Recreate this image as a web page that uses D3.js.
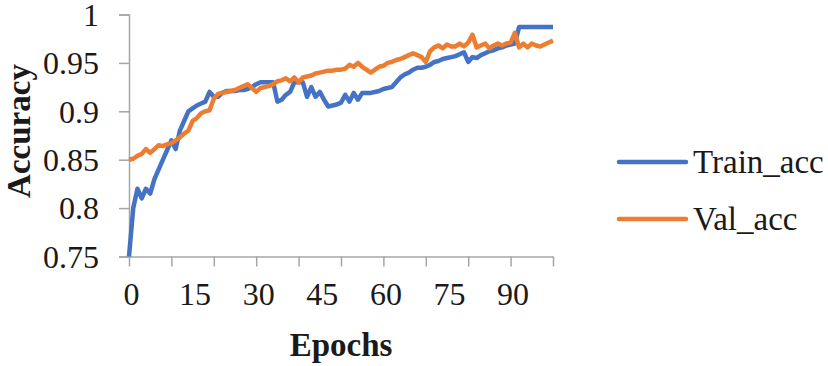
<!DOCTYPE html>
<html>
<head>
<meta charset="utf-8">
<script src="https://cdn.jsdelivr.net/npm/d3@7/dist/d3.min.js"></script>
<style>
  body { margin: 0; background: #fff; }
  svg text { font-family: "Liberation Serif", "Times New Roman", serif; fill: #1a1a1a; }
  .axis path, .axis line { stroke: #a6a6a6; stroke-width: 1.5; }
</style>
</head>
<body>
<svg id="chart"></svg>
<script>
//////////////// Daten ////////////////////
const epochs = d3.range(0, 101);

const trainAcc = [
  0.75, 0.80, 0.82, 0.81, 0.82, 0.815, 0.83, 0.84, 0.85, 0.86,
  0.87, 0.861, 0.88, 0.89, 0.90, 0.903, 0.906, 0.908, 0.91, 0.92,
  0.915, 0.915, 0.919, 0.921, 0.921, 0.921, 0.922, 0.922, 0.923, 0.925,
  0.928, 0.93, 0.93, 0.93, 0.93, 0.91, 0.912, 0.917, 0.92, 0.93,
  0.93, 0.93, 0.915, 0.925, 0.915, 0.92, 0.912, 0.905, 0.906, 0.907,
  0.909, 0.917, 0.91, 0.919, 0.912, 0.919, 0.919, 0.919, 0.92, 0.921,
  0.923, 0.924, 0.925, 0.93, 0.935, 0.938, 0.94, 0.943, 0.945, 0.945,
  0.946, 0.948, 0.951, 0.952, 0.954, 0.955, 0.956, 0.957, 0.959, 0.961,
  0.951, 0.956, 0.955, 0.958, 0.96, 0.962, 0.963, 0.965, 0.966, 0.968,
  0.969, 0.97, 0.987, 0.987, 0.987, 0.987, 0.987, 0.987, 0.987, 0.987,
  0.987
];

const valAcc = [
  0.85, 0.851, 0.854, 0.856, 0.861, 0.857, 0.861, 0.865, 0.864, 0.866,
  0.867, 0.87, 0.873, 0.877, 0.88, 0.89, 0.893, 0.898, 0.90, 0.901,
  0.913, 0.918, 0.919, 0.92, 0.921, 0.922, 0.924, 0.926, 0.928, 0.924,
  0.92, 0.924, 0.925, 0.926, 0.928, 0.931, 0.932, 0.934, 0.931, 0.935,
  0.93, 0.935, 0.936, 0.937, 0.939, 0.94, 0.941, 0.942, 0.942, 0.943,
  0.943, 0.944, 0.948, 0.946, 0.95, 0.946, 0.943, 0.94, 0.943, 0.946,
  0.947, 0.95, 0.951, 0.953, 0.954, 0.956, 0.958, 0.96, 0.958, 0.956,
  0.951, 0.962, 0.966, 0.968, 0.965, 0.969, 0.967, 0.967, 0.97, 0.967,
  0.971, 0.979, 0.966, 0.968, 0.97, 0.965, 0.968, 0.97, 0.968, 0.97,
  0.971, 0.981, 0.966, 0.97, 0.966, 0.97, 0.968, 0.967, 0.969, 0.971,
  0.973
];

const seriesNames = ["Train_acc", "Val_acc"];
const yTicks = [0.75, 0.8, 0.85, 0.9, 0.95, 1];
const xTickMarks = d3.range(0, 101, 10);
const xTickLabels = [0, 15, 30, 45, 60, 75, 90];

//////////////// Konstanten ////////////////////
const W = 828, H = 366;
const plot = {left: 129, right: 553, top: 14.5, bottom: 256.5};
const farben = ["#4472C4", "#ED7D31"];

const svg = d3.select("#chart").attr("width", W).attr("height", H);

const x = d3.scaleLinear().domain([0, 100]).range([plot.left, plot.right]);
const y = d3.scaleLinear().domain([0.75, 1]).range([plot.bottom, plot.top]);

//////////////// Achsen ///////////////
const yAxis = svg.append("g")
  .attr("class", "axis")
  .attr("transform", "translate(" + plot.left + ",0)")
  .call(d3.axisLeft(y).tickValues(yTicks).tickSize(10).tickPadding(20)
    .tickFormat(d3.format("")));
yAxis.selectAll("text").style("font-size", "32px").attr("dy", "0.34em");

const xAxis = svg.append("g")
  .attr("class", "axis")
  .attr("transform", "translate(0," + plot.bottom + ")")
  .call(d3.axisBottom(x).tickValues(xTickMarks).tickSize(10).tickSizeOuter(0)
    .tickFormat(""));

// labels only every 15 epochs, like the original
const xLabels = svg.append("g")
  .attr("transform", "translate(0," + plot.bottom + ")")
  .call(d3.axisBottom(x).tickValues(xTickLabels).tickSize(0).tickPadding(26));
xLabels.select(".domain").remove();
xLabels.selectAll("text").style("font-size", "32px").attr("dx", 2);

//////////////// Linien ///////////////
const line = d3.line()
  .x(function(d, i) { return x(epochs[i]); })
  .y(function(d) { return y(d); });

[trainAcc, valAcc].forEach(function(serie, k) {
  svg.append("path")
    .datum(serie)
    .attr("d", line)
    .attr("fill", "none")
    .attr("stroke", farben[k])
    .attr("stroke-width", 4.5)
    .attr("stroke-linejoin", "round");
});

//////////////// Titel ///////////////
svg.append("text")
  .attr("x", (plot.left + plot.right) / 2)
  .attr("y", 356)
  .attr("text-anchor", "middle")
  .style("font-size", "33px")
  .style("font-weight", "bold")
  .text("Epochs");

svg.append("text")
  .attr("transform", "translate(30," + 131 + ") rotate(-90)")
  .attr("text-anchor", "middle")
  .style("font-size", "33px")
  .style("font-weight", "bold")
  .text("Accuracy");

//////////////// Legende ///////////////
const legY = [162, 219];
const legende = svg.append("g");
seriesNames.forEach(function(name, k) {
  legende.append("line")
    .attr("x1", 619).attr("x2", 686)
    .attr("y1", legY[k]).attr("y2", legY[k])
    .attr("stroke", farben[k])
    .attr("stroke-width", 4.5)
    .attr("stroke-linecap", "round");
  legende.append("text")
    .attr("x", 693)
    .attr("y", legY[k])
    .attr("dy", "0.34em")
    .style("font-size", "33px")
    .text(name);
});
</script>
</body>
</html>
